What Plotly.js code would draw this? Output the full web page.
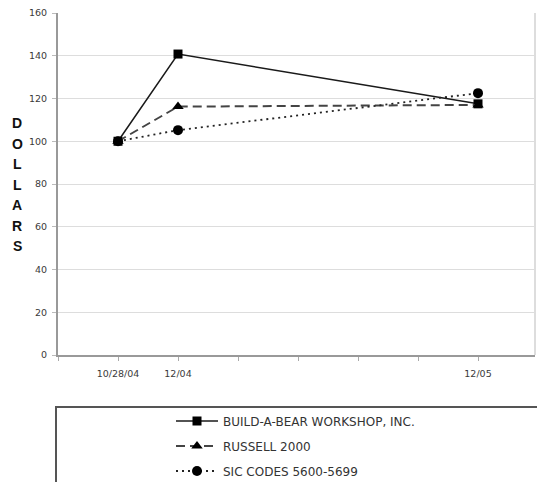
<!DOCTYPE html>
<html>
<head>
<meta charset="utf-8">
<script src="https://cdn.plot.ly/plotly-3.0.1.min.js"></script>
<style>html,body{margin:0;padding:0;background:#fff;}#chart{width:537px;height:482px;}</style>
</head>
<body>
<div id="chart"></div>
<script>
// ---- data ----
const xLabels = ['10/28/04', '12/04', '12/05'];
const xPos = [1, 2, 7];            // position of each period on the time axis
const tickSlots = [0, 1, 2, 3, 4, 5, 6, 7];
const seriesNames = ['BUILD-A-BEAR WORKSHOP, INC.', 'RUSSELL 2000', 'SIC CODES 5600-5699'];
const buildABear = [100, 140.8, 117.5];
const russell2000 = [100, 116.2, 117];
const sicCodes = [100, 105.2, 122.5];
const yTitle = 'DOLLARS';

const traces = [
  {name: seriesNames[0], y: buildABear, dash: 'solid', sym: 'square', size: 9, w: 1.5, c: '#1a1a1a'},
  {name: seriesNames[1], y: russell2000, dash: '9px,5px', sym: 'triangle-up', size: 10, w: 2, c: '#444'},
  {name: seriesNames[2], y: sicCodes, dash: '2px,4px', sym: 'circle', size: 10, w: 1.8, c: '#222'}
].map((s, i) => ({
  type: 'scatter', mode: 'lines+markers', name: s.name,
  x: xPos, y: s.y, legendgroup: 'g' + i,
  line: {color: s.c, width: s.w, dash: s.dash},
  marker: {color: '#000', symbol: s.sym, size: s.size}
}));

const tickText = tickSlots.map(t => {
  const k = xPos.indexOf(t);
  return k >= 0 ? xLabels[k] : '';
});

const plotL = 58, plotW = 477;
const plotTop = 13, plotBottom = 355, plotH = plotBottom - plotTop;
const px = v => (v - plotL) / plotW;
const py = v => (plotBottom - v) / plotH;
const letterAnns = yTitle.split('').map((ch, i) => ({
  text: '<b>' + ch + '</b>', xref: 'paper', yref: 'paper',
  x: px(17), y: py(123 + 20.5 * i),
  xanchor: 'center', yanchor: 'middle', showarrow: false,
  font: {family: 'Liberation Sans, Arial, sans-serif', size: 14, color: '#111'}
}));

const layout = {
  width: 537, height: 482,
  margin: {l: 58, r: 2, t: 13, b: 127, autoexpand: false},
  paper_bgcolor: '#fff', plot_bgcolor: '#fff',
  showlegend: true,
  font: {family: 'DejaVu Sans, sans-serif', size: 10, color: '#333'},
  xaxis: {
    range: [0, 7.95], tickmode: 'array', tickvals: tickSlots, ticktext: tickText,
    tickangle: 0,
    showgrid: false, zeroline: false, showline: true, linecolor: '#999', linewidth: 2,
    ticks: 'outside', ticklen: 4, tickcolor: '#aaa', tickwidth: 1,
    tickfont: {family: 'DejaVu Sans, sans-serif', size: 9.5, color: '#3a3a3a'},
    ticklabelstandoff: 5, fixedrange: true
  },
  yaxis: {
    range: [0, 160], dtick: 20, tick0: 0,
    showgrid: true, gridcolor: '#ddd', gridwidth: 1, zeroline: false,
    showline: true, linecolor: '#999', linewidth: 2,
    ticks: 'outside', ticklen: 4, tickcolor: '#bbb', tickwidth: 1,
    tickfont: {family: 'DejaVu Sans, sans-serif', size: 9.5, color: '#3a3a3a'},
    ticklabelstandoff: 3, fixedrange: true
  },
  legend: {
    orientation: 'v',
    x: px(171), y: py(406.5), xanchor: 'left', yanchor: 'top',
    bgcolor: 'rgba(0,0,0,0)', borderwidth: 0, itemwidth: 42,
    tracegroupgap: 6,
    font: {family: 'DejaVu Sans, sans-serif', size: 12, color: '#333'}
  },
  shapes: [
    {type: 'line', xref: 'paper', yref: 'paper', x0: 1, x1: 1, y0: 0, y1: 1,
     line: {color: '#ddd', width: 2}},
    {type: 'rect', xref: 'paper', yref: 'paper',
     x0: px(56), x1: 1.05, y0: py(407), y1: -0.6,
     line: {color: '#555', width: 2}, fillcolor: 'rgba(0,0,0,0)'}
  ],
  annotations: letterAnns
};

Plotly.newPlot('chart', traces, layout, {displayModeBar: false, staticPlot: true});
</script>
</body>
</html>
